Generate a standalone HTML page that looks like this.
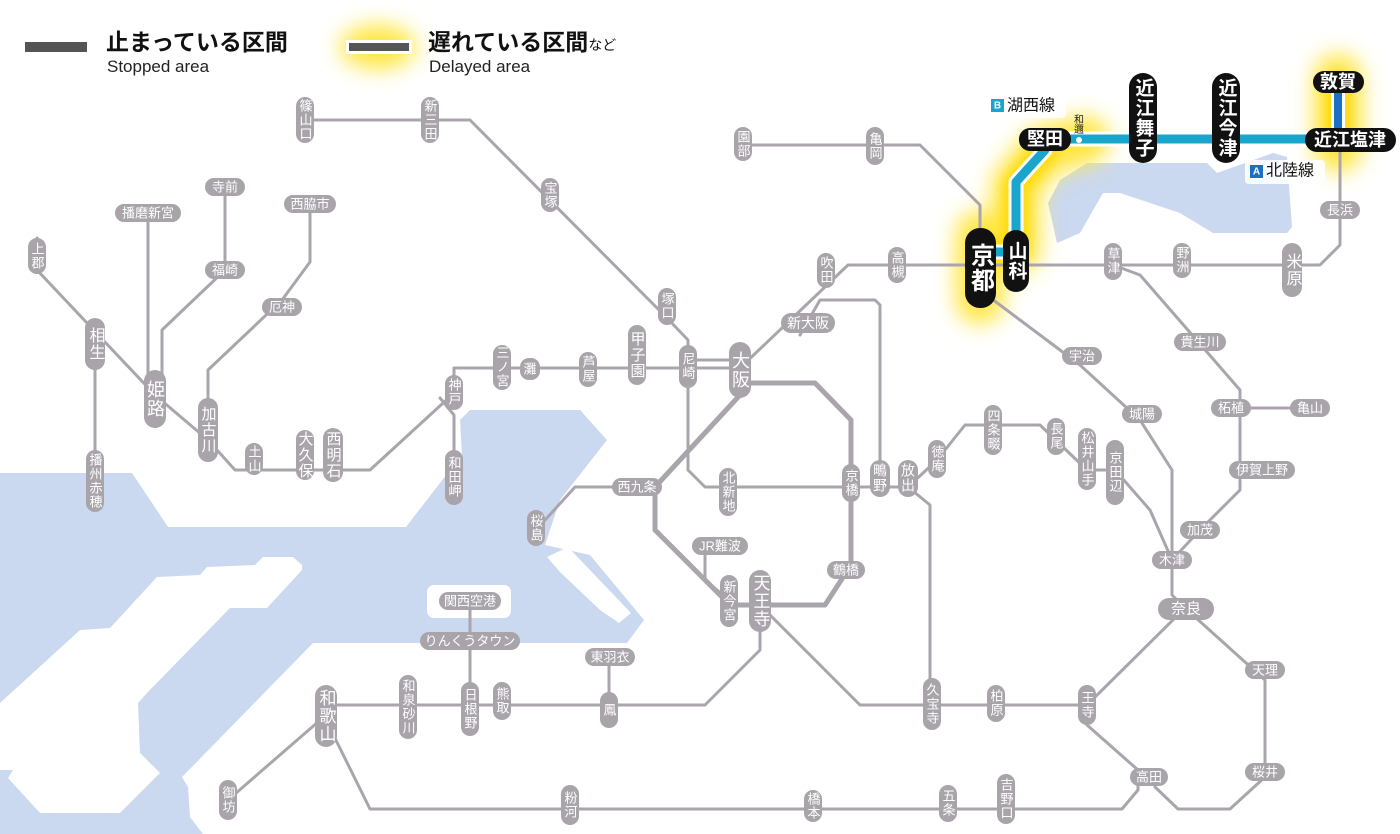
<!DOCTYPE html>
<html><head><meta charset="utf-8"><style>
html,body{margin:0;padding:0;background:#fff;}
svg{display:block}
.l{fill:none;stroke:#aaa5ad;stroke-width:3;stroke-linejoin:round;stroke-linecap:round}
.p{fill:#a8a4aa}
.t{fill:#fff;font-family:"Liberation Sans","Noto Sans CJK JP",sans-serif;font-size:13px;text-anchor:middle;dominant-baseline:central}
.v{writing-mode:vertical-rl;letter-spacing:1px}
.b{fill:#111}
.bt{fill:#fff;font-family:"Liberation Sans","Noto Sans CJK JP",sans-serif;font-size:19px;font-weight:bold;text-anchor:middle;dominant-baseline:central}
</style></head><body>
<svg width="1400" height="834" viewBox="0 0 1400 834" xmlns="http://www.w3.org/2000/svg">
<defs>
<filter id="g" x="-50%" y="-50%" width="200%" height="200%"><feGaussianBlur stdDeviation="11"/></filter>
<filter id="g2" x="-50%" y="-50%" width="200%" height="200%"><feGaussianBlur stdDeviation="5"/></filter>
</defs>
<!-- water -->
<g fill="#cad8f0">
<polygon points="0,473 132,473 168,527 406,527 450,470 462,455 460,420 470,410 580,410 607,440 560,500 545,545 590,555 644,620 627,643 313,643 182,777 188,787 190,817 203,834 0,834"/>
<polygon points="1060,180 1087,163 1207,163 1217,173 1273,153 1287,157 1292,227 1287,233 1213,233 1180,213 1120,193 1103,193 1080,233 1057,243 1048,203"/>
</g>
<g fill="#fff">
<polygon points="0,703 80,630 110,628 157,577 200,575 207,567 255,565 263,557 293,557 302,565 302,570 267,608 230,608 147,693 138,703 140,753 160,773 120,813 40,813 8,778 13,770 0,770"/>
<rect x="427" y="585" width="84" height="33" rx="7"/>
<polygon points="547,557 568,547 631,613 619,623 600,610 560,572"/>
</g>
<!-- glow -->
<g filter="url(#g)" stroke="#ffe640" fill="none" stroke-width="48" stroke-linejoin="round" stroke-linecap="round">
<path d="M980,255 L1016,250 L1016,185 L1045,150 L1085,140"/>
<path d="M980,235 L980,300"/>
<path d="M1338,78 L1338,148"/>
</g>
<g filter="url(#g2)" stroke="#ffd800" fill="none" stroke-width="26" stroke-linejoin="round" stroke-linecap="round" opacity="0.8">
<path d="M985,252 L1016,250 L1016,185 L1045,150"/>
<path d="M1338,85 L1338,135"/>
</g>
<ellipse cx="378" cy="47" rx="38" ry="22" fill="#ffe640" filter="url(#g)"/>
<!-- lines -->
<polyline class="l" points="305,120 470,120 667,318 688,340 688,470 705,487 851,487 908,487"/>
<polyline class="l" points="743,145 920,145 980,205 980,265"/>
<polyline class="l" points="37,238 37,270 155,395 208,440 235,470 370,470 454,393 454,368 740,368 848,265 1320,265 1340,245 1340,139"/>
<polyline class="l" points="688,360 740,360"/>
<polyline class="l" points="95,330 95,500"/>
<polyline class="l" points="148,213 148,395"/>
<polyline class="l" points="225,187 225,270 162,330 162,395"/>
<polyline class="l" points="310,204 310,262 282,300 208,370 208,430"/>
<polyline class="l" points="440,398 454,415 454,480"/>
<polyline class="l" style="stroke-width:5" points="740,383 815,383 851,420 851,565 825,605 730,605 655,530 655,487 740,395"/>
<polyline class="l" points="637,487 575,487 536,530"/>
<polyline class="l" points="800,335 820,300 875,300 880,305 880,487"/>
<polyline class="l" points="908,487 937,460 965,425 1040,425 1087,470 1115,470 1150,510 1172,560"/>
<polyline class="l" points="908,487 930,505 930,705"/>
<polyline class="l" points="760,605 860,705 1087,705 1185,608"/>
<polyline class="l" points="1185,608 1172,595 1172,560 1200,530 1240,490 1240,408 1310,408"/>
<polyline class="l" points="1240,408 1240,390 1140,275 1113,265"/>
<polyline class="l" points="980,290 1080,365 1140,420 1172,470 1172,560"/>
<polyline class="l" points="1185,608 1265,680 1265,777 1230,809 1178,809 1155,787"/>
<polyline class="l" points="1087,705 1087,725 1138,770 1138,790 1122,809 370,809 326,720"/>
<polyline class="l" points="760,605 760,650 705,705 326,705"/>
<polyline class="l" points="470,601 470,705"/>
<polyline class="l" points="609,657 609,705"/>
<polyline class="l" points="326,715 228,800"/>
<polyline class="l" points="705,546 705,580 729,600"/>
<!-- Kosei line -->
<g fill="none" stroke-linejoin="round">
<path d="M980,252 L1016,252 M1016,262 L1016,182 L1045,150 L1045,139 L1330,139" stroke="#fff" stroke-width="15"/>
<path d="M980,252 L1016,252 M1016,262 L1016,182 L1045,150 L1045,139 L1330,139" stroke="#1aa5cc" stroke-width="9"/>
<path d="M1338,82 L1338,139" stroke="#fff" stroke-width="14"/>
<path d="M1338,82 L1338,139" stroke="#1b6fc4" stroke-width="8"/>
</g>
<circle cx="1079" cy="140" r="3" fill="#fff"/>
<text x="1079" y="124" style="font-family:'Noto Sans CJK JP',sans-serif;font-size:10px;writing-mode:vertical-rl;text-anchor:middle" fill="#222">和邇</text>
<!-- vertical gray pills -->
<g>
<rect class="p" x="296" y="97" width="18" height="46" rx="9"/><text class="t v" x="305" y="120">篠山口</text>
<rect class="p" x="421" y="97" width="18" height="46" rx="9"/><text class="t v" x="430" y="120">新三田</text>
<rect class="p" x="541" y="178" width="18" height="34" rx="9"/><text class="t v" x="550" y="195">宝塚</text>
<rect class="p" x="734" y="127" width="18" height="34" rx="9"/><text class="t v" x="743" y="144">園部</text>
<rect class="p" x="866" y="127" width="18" height="38" rx="9"/><text class="t v" x="875" y="146">亀岡</text>
<rect class="p" x="28" y="238" width="18" height="36" rx="9"/><text class="t v" x="37" y="256">上郡</text>
<rect class="p" x="85" y="318" width="20" height="52" rx="10"/><text class="t v" x="95" y="344" style="font-size:16px">相生</text>
<rect class="p" x="144" y="370" width="22" height="58" rx="11"/><text class="t v" x="155" y="399" style="font-size:18px">姫路</text>
<rect class="p" x="198" y="398" width="20" height="64" rx="10"/><text class="t v" x="208" y="430" style="font-size:15px">加古川</text>
<rect class="p" x="245" y="443" width="18" height="32" rx="9"/><text class="t v" x="254" y="459">土山</text>
<rect class="p" x="296" y="430" width="18" height="50" rx="9"/><text class="t v" x="305" y="455" style="font-size:15px">大久保</text>
<rect class="p" x="323" y="428" width="20" height="54" rx="10"/><text class="t v" x="333" y="455" style="font-size:15px">西明石</text>
<rect class="p" x="445" y="375" width="18" height="35" rx="9"/><text class="t v" x="454" y="392">神戸</text>
<rect class="p" x="493" y="345" width="18" height="45" rx="9"/><text class="t v" x="502" y="367">三ノ宮</text>
<rect class="p" x="520" y="358" width="20" height="22" rx="9"/><text class="t" x="530" y="369">灘</text>
<rect class="p" x="579" y="352" width="18" height="35" rx="9"/><text class="t v" x="588" y="369">芦屋</text>
<rect class="p" x="628" y="325" width="18" height="60" rx="9"/><text class="t v" x="637" y="355" style="font-size:15px">甲子園</text>
<rect class="p" x="679" y="345" width="18" height="43" rx="9"/><text class="t v" x="688" y="366">尼崎</text>
<rect class="p" x="729" y="342" width="22" height="56" rx="11"/><text class="t v" x="740" y="370" style="font-size:18px">大阪</text>
<rect class="p" x="658" y="288" width="18" height="37" rx="9"/><text class="t v" x="667" y="306">塚口</text>
<rect class="p" x="817" y="253" width="18" height="35" rx="9"/><text class="t v" x="826" y="270">吹田</text>
<rect class="p" x="888" y="247" width="18" height="36" rx="9"/><text class="t v" x="897" y="265">高槻</text>
<rect class="p" x="1104" y="243" width="18" height="37" rx="9"/><text class="t v" x="1113" y="261">草津</text>
<rect class="p" x="1173" y="243" width="18" height="35" rx="9"/><text class="t v" x="1182" y="260">野洲</text>
<rect class="p" x="1282" y="243" width="20" height="54" rx="10"/><text class="t v" x="1292" y="270" style="font-size:16px">米原</text>
<rect class="p" x="1078" y="685" width="18" height="40" rx="9"/><text class="t v" x="1087" y="705">王寺</text>
<rect class="p" x="987" y="685" width="18" height="37" rx="9"/><text class="t v" x="996" y="703">柏原</text>
<rect class="p" x="923" y="678" width="18" height="52" rx="9"/><text class="t v" x="932" y="704">久宝寺</text>
<rect class="p" x="984" y="405" width="18" height="50" rx="9"/><text class="t v" x="993" y="430">四条畷</text>
<rect class="p" x="1047" y="418" width="18" height="37" rx="9"/><text class="t v" x="1056" y="436">長尾</text>
<rect class="p" x="1078" y="428" width="18" height="62" rx="9"/><text class="t v" x="1087" y="459">松井山手</text>
<rect class="p" x="1106" y="440" width="18" height="65" rx="9"/><text class="t v" x="1115" y="472">京田辺</text>
<rect class="p" x="928" y="440" width="18" height="38" rx="9"/><text class="t v" x="937" y="459">徳庵</text>
<rect class="p" x="898" y="460" width="20" height="37" rx="10"/><text class="t v" x="908" y="478" style="font-size:14px">放出</text>
<rect class="p" x="870" y="460" width="20" height="37" rx="10"/><text class="t v" x="880" y="478" style="font-size:14px">鴫野</text>
<rect class="p" x="842" y="464" width="18" height="38" rx="9"/><text class="t v" x="851" y="483">京橋</text>
<rect class="p" x="719" y="468" width="18" height="48" rx="9"/><text class="t v" x="728" y="492">北新地</text>
<rect class="p" x="527" y="510" width="18" height="36" rx="9"/><text class="t v" x="536" y="528">桜島</text>
<rect class="p" x="720" y="575" width="18" height="52" rx="9"/><text class="t v" x="729" y="601">新今宮</text>
<rect class="p" x="749" y="570" width="22" height="62" rx="11"/><text class="t v" x="760" y="601" style="font-size:17px">天王寺</text>
<rect class="p" x="600" y="692" width="18" height="36" rx="9"/><text class="t v" x="609" y="710">鳳</text>
<rect class="p" x="493" y="682" width="18" height="38" rx="9"/><text class="t v" x="502" y="701">熊取</text>
<rect class="p" x="461" y="682" width="18" height="54" rx="9"/><text class="t v" x="470" y="709">日根野</text>
<rect class="p" x="399" y="675" width="18" height="64" rx="9"/><text class="t v" x="408" y="707">和泉砂川</text>
<rect class="p" x="315" y="685" width="22" height="62" rx="11"/><text class="t v" x="326" y="716" style="font-size:17px">和歌山</text>
<rect class="p" x="219" y="780" width="18" height="40" rx="9"/><text class="t v" x="228" y="800">御坊</text>
<rect class="p" x="561" y="785" width="18" height="40" rx="9"/><text class="t v" x="570" y="805">粉河</text>
<rect class="p" x="804" y="790" width="18" height="32" rx="9"/><text class="t v" x="813" y="806">橋本</text>
<rect class="p" x="939" y="785" width="18" height="37" rx="9"/><text class="t v" x="948" y="803">五条</text>
<rect class="p" x="997" y="774" width="18" height="50" rx="9"/><text class="t v" x="1006" y="799">吉野口</text>
<rect class="p" x="86" y="450" width="18" height="62" rx="9"/><text class="t v" x="95" y="481">播州赤穂</text>
<rect class="p" x="445" y="450" width="18" height="55" rx="9"/><text class="t v" x="454" y="477">和田岬</text>
</g>
<!-- horizontal gray pills -->
<g>
<rect class="p" x="1062" y="347" width="40" height="18" rx="9"/><text class="t" x="1082" y="356">宇治</text>
<rect class="p" x="1122" y="405" width="40" height="18" rx="9"/><text class="t" x="1142" y="414">城陽</text>
<rect class="p" x="1174" y="333" width="52" height="18" rx="9"/><text class="t" x="1200" y="342">貴生川</text>
<rect class="p" x="1211" y="399" width="40" height="18" rx="9"/><text class="t" x="1231" y="408">柘植</text>
<rect class="p" x="1290" y="399" width="40" height="18" rx="9"/><text class="t" x="1310" y="408">亀山</text>
<rect class="p" x="1229" y="461" width="66" height="18" rx="9"/><text class="t" x="1262" y="470">伊賀上野</text>
<rect class="p" x="1180" y="521" width="40" height="18" rx="9"/><text class="t" x="1200" y="530">加茂</text>
<rect class="p" x="1152" y="551" width="40" height="18" rx="9"/><text class="t" x="1172" y="560">木津</text>
<rect class="p" x="1158" y="598" width="56" height="22" rx="11"/><text class="t" x="1186" y="609" style="font-size:15px">奈良</text>
<rect class="p" x="1245" y="661" width="40" height="18" rx="9"/><text class="t" x="1265" y="670">天理</text>
<rect class="p" x="1245" y="763" width="40" height="18" rx="9"/><text class="t" x="1265" y="772">桜井</text>
<rect class="p" x="1130" y="768" width="38" height="18" rx="9"/><text class="t" x="1149" y="777">高田</text>
<rect class="p" x="612" y="478" width="50" height="18" rx="9"/><text class="t" x="637" y="487">西九条</text>
<rect class="p" x="781" y="313" width="54" height="20" rx="10"/><text class="t" x="808" y="323" style="font-size:14px">新大阪</text>
<rect class="p" x="692" y="537" width="56" height="18" rx="9"/><text class="t" x="720" y="546">JR難波</text>
<rect class="p" x="827" y="561" width="38" height="18" rx="9"/><text class="t" x="846" y="570">鶴橋</text>
<rect class="p" x="439" y="592" width="62" height="18" rx="9"/><text class="t" x="470" y="601">関西空港</text>
<rect class="p" x="420" y="632" width="100" height="18" rx="9"/><text class="t" x="470" y="641">りんくうタウン</text>
<rect class="p" x="585" y="648" width="50" height="18" rx="9"/><text class="t" x="610" y="657">東羽衣</text>
<rect class="p" x="284" y="195" width="52" height="18" rx="9"/><text class="t" x="310" y="204">西脇市</text>
<rect class="p" x="115" y="204" width="66" height="18" rx="9"/><text class="t" x="148" y="213">播磨新宮</text>
<rect class="p" x="205" y="178" width="40" height="18" rx="9"/><text class="t" x="225" y="187">寺前</text>
<rect class="p" x="205" y="261" width="40" height="18" rx="9"/><text class="t" x="225" y="270">福崎</text>
<rect class="p" x="262" y="298" width="40" height="18" rx="9"/><text class="t" x="282" y="307">厄神</text>
<rect class="p" x="1320" y="201" width="40" height="18" rx="9"/><text class="t" x="1340" y="210">長浜</text>
</g>
<!-- black pills -->
<rect class="b" x="965" y="228" width="31" height="80" rx="15"/><text class="bt v" x="980" y="268" style="font-size:24px">京都</text>
<rect class="b" x="1003" y="230" width="26" height="62" rx="13"/><text class="bt v" x="1016" y="261">山科</text>
<rect class="b" x="1019" y="128" width="52" height="23" rx="11"/><text class="bt" x="1045" y="139" style="font-size:18px">堅田</text>
<rect class="b" x="1129" y="73" width="28" height="90" rx="14"/><text class="bt v" x="1143" y="118">近江舞子</text>
<rect class="b" x="1212" y="73" width="28" height="90" rx="14"/><text class="bt v" x="1226" y="118">近江今津</text>
<rect class="b" x="1305" y="128" width="91" height="24" rx="12"/><text class="bt" x="1350" y="140" style="font-size:18px">近江塩津</text>
<rect class="b" x="1313" y="71" width="51" height="22" rx="11"/><text class="bt" x="1338" y="82" style="font-size:18px">敦賀</text>
<!-- line labels -->
<rect x="986" y="94" width="80" height="24" rx="4" fill="#fff" opacity="0.9"/>
<rect x="991" y="99" width="13" height="13" fill="#1aa5cc"/><text x="997.5" y="106" fill="#fff" style="font:bold 10px 'Liberation Sans',sans-serif;text-anchor:middle;dominant-baseline:central">B</text>
<text x="1007" y="106" fill="#111" style="font-family:'Liberation Sans','Noto Sans CJK JP',sans-serif;font-size:16px;dominant-baseline:central">湖西線</text>
<rect x="1245" y="160" width="80" height="24" rx="4" fill="#fff" opacity="0.9"/>
<rect x="1250" y="165" width="13" height="13" fill="#1b6fc4"/><text x="1256.5" y="172" fill="#fff" style="font:bold 10px 'Liberation Sans',sans-serif;text-anchor:middle;dominant-baseline:central">A</text>
<text x="1266" y="171" fill="#111" style="font-family:'Liberation Sans','Noto Sans CJK JP',sans-serif;font-size:16px;dominant-baseline:central">北陸線</text>
<!-- legend -->
<rect x="25" y="42" width="62" height="10" fill="#555"/>
<text x="106" y="50" fill="#111" style="font-family:'Liberation Sans','Noto Sans CJK JP',sans-serif;font-size:23px;font-weight:bold">止まっている区間</text>
<text x="107" y="72" fill="#222" style="font-family:'Liberation Sans',sans-serif;font-size:17px">Stopped area</text>
<rect x="346" y="40" width="66" height="14" fill="#fff"/>
<rect x="349" y="43" width="60" height="8" fill="#555"/>
<text x="428" y="50" fill="#111" style="font-family:'Liberation Sans','Noto Sans CJK JP',sans-serif;font-size:23px;font-weight:bold">遅れている区間<tspan style="font-size:14px;font-weight:normal">など</tspan></text>
<text x="429" y="72" fill="#222" style="font-family:'Liberation Sans',sans-serif;font-size:17px">Delayed area</text>
</svg>
</body></html>
